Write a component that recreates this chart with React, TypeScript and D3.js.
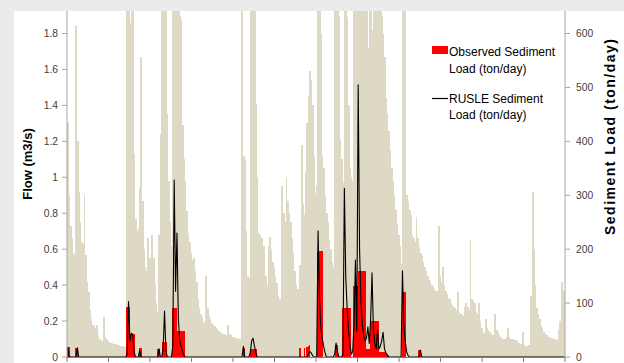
import React from "react";
import * as d3 from "d3";

// daily flow (m3/s), one row per 30-day block
const flow = [
  1.30, 0.90, 0.73, 0.66, 0.58, 0.57, 1.84, 1.20, 0.92, 0.75, 0.64, 0.63, 0.90, 0.57, 0.42, 0.36, 0.26, 0.21, 0.18, 0.17, 0.16, 0.18, 0.12, 0.10, 0.095, 0.09, 0.22, 0.11, 0.10, 0.09,
  0.085, 0.08, 0.08, 0.075, 0.07, 0.07, 0.065, 0.065, 0.06, 0.06, 0.06, 0.055, 0.055, 2.4, 2.6, 1.86, 2.2, 2.4, 1.13, 0.77, 0.70, 0.72, 0.94, 1.67, 0.87, 0.60, 0.50, 0.48, 0.66, 0.55,
  0.52, 0.68, 0.55, 0.40, 0.30, 0.25, 0.68, 1.24, 2.3, 2.5, 2.2, 2.0, 1.35, 0.98, 0.75, 0.62, 2.4, 2.6, 2.5, 2.3, 2.1, 1.90, 1.88, 1.29, 1.10, 0.98, 0.81, 0.69, 0.64, 0.58,
  0.54, 0.55, 0.48, 0.42, 0.32, 0.27, 0.24, 0.22, 0.20, 0.19, 0.45, 0.27, 0.23, 0.21, 0.19, 0.18, 0.17, 0.16, 0.155, 0.145, 0.14, 0.135, 0.13, 0.13, 0.12, 0.12, 0.18, 0.13, 0.12, 0.11,
  0.11, 0.105, 0.105, 0.10, 0.10, 0.10, 2.4, 1.12, 1.10, 0.70, 0.45, 0.44, 2.2, 2.6, 2.4, 2.0, 1.41, 1.00, 0.69, 0.68, 0.66, 0.62, 0.62, 0.45, 0.40, 0.62, 0.67, 0.60, 0.53, 0.50,
  0.45, 0.41, 0.34, 0.32, 0.31, 0.95, 0.80, 0.75, 1.00, 0.87, 0.80, 0.75, 0.66, 0.58, 0.48, 0.40, 0.38, 0.37, 0.51, 1.18, 0.85, 0.79, 1.03, 1.30, 1.45, 1.59, 1.54, 1.40, 1.12, 0.91,
  0.95, 2.4, 2.2, 1.80, 1.12, 1.05, 0.90, 0.80, 0.75, 0.65, 0.60, 0.53, 0.50, 2.2, 2.5, 2.1, 1.90, 1.21, 1.10, 0.97, 2.3, 2.0, 1.89, 1.40, 1.05, 1.00, 0.98, 2.2, 2.6, 2.4,
  2.5, 2.4, 2.6, 2.3, 2.5, 2.2, 2.0, 1.72, 2.3, 2.1, 1.82, 2.2, 2.5, 2.6, 2.4, 2.2, 2.0, 1.90, 1.80, 1.67, 1.44, 1.35, 1.26, 1.15, 1.05, 0.98, 0.90, 0.82, 0.74, 0.68,
  0.62, 0.52, 2.3, 2.4, 2.1, 0.90, 0.87, 0.82, 0.79, 0.68, 0.66, 0.64, 0.78, 0.66, 0.61, 0.58, 0.56, 0.53, 0.50, 0.48, 0.45, 0.43, 0.42, 0.40, 0.39, 0.38, 0.37, 0.37, 0.73, 0.45,
  0.42, 0.50, 0.40, 0.37, 0.35, 0.33, 0.32, 0.30, 0.29, 0.28, 0.27, 0.26, 0.36, 0.25, 0.24, 0.24, 0.23, 0.28, 0.30, 0.28, 0.26, 0.65, 0.32, 0.31, 0.30, 0.25, 0.24, 0.30, 0.20, 0.16,
  0.14, 0.13, 0.21, 0.16, 0.15, 0.14, 0.13, 0.12, 0.12, 0.24, 0.15, 0.14, 0.12, 0.11, 0.10, 0.10, 0.10, 0.11, 0.16, 0.11, 0.10, 0.10, 0.10, 0.095, 0.095, 0.09, 0.08, 0.075, 0.075, 0.14,
  0.065, 0.06, 0.06, 0.065, 0.065, 0.34, 0.92, 0.60, 0.40, 0.27, 0.24, 0.21, 0.17, 0.16, 0.14, 0.13, 0.12, 0.11, 0.11, 0.105, 0.105, 0.10, 0.10, 0.10, 0.095, 0.15, 0.20, 0.42, 0.37, 0.37,
];

// [day, ton/day] - days not listed are 0
const observed = [
  [0, 18], [1, 18], [6, 17], [7, 17], [43, 93], [44, 93], [45, 42], [46, 42], [47, 42], [48, 42],
  [52, 16], [53, 16], [65, 15], [66, 15], [69, 27], [70, 27], [71, 27], [76, 91], [77, 91], [78, 91],
  [79, 48], [80, 48], [81, 48], [82, 48], [83, 48], [84, 48], [127, 17], [128, 17],
  [132, 14], [133, 14], [134, 14], [135, 14], [136, 14], [168, 16], [171, 16], [173, 18], [174, 20], [175, 22],
  [181, 197], [182, 197], [183, 197], [184, 197], [194, 23], [195, 23],
  [199, 91], [200, 91], [201, 91], [202, 91], [203, 91], [204, 91], [207, 131], [208, 131], [209, 131],
  [210, 160], [211, 160], [212, 160], [213, 160], [214, 160], [215, 160], [216, 15], [217, 15], [218, 15],
  [219, 67], [220, 67], [221, 67], [222, 67], [223, 67], [224, 67], [225, 10], [226, 10], [227, 10], [228, 10], [229, 10],
  [230, 8], [231, 4], [232, 4], [242, 121], [243, 121], [244, 121], [254, 13], [255, 13],
];

const rusle = [
  [0, 18], [1, 2], [7, 17], [43, 5], [44, 103], [45, 30], [46, 44], [47, 42], [48, 10], [52, 12], [66, 15],
  [69, 15], [70, 85], [71, 12], [76, 20], [77, 328], [78, 122], [79, 230], [80, 70], [81, 30], [82, 20], [83, 10], [84, 3],
  [127, 20], [132, 8], [133, 30], [134, 35], [135, 20], [136, 8], [174, 5], [175, 10], [176, 8], [177, 3],
  [181, 234], [182, 110], [183, 55], [184, 35], [185, 20], [186, 8], [193, 5], [194, 26], [195, 10],
  [199, 5], [200, 313], [201, 150], [202, 90], [203, 50], [204, 25], [205, 5], [206, 10], [207, 60], [208, 180], [209, 48],
  [210, 505], [211, 200], [212, 100], [213, 60], [214, 40], [215, 30], [216, 35], [217, 56], [218, 25], [219, 70],
  [220, 156], [221, 50], [222, 25], [223, 15], [224, 50], [225, 15], [226, 20], [227, 30], [228, 46], [229, 15], [230, 8], [231, 4],
  [242, 160], [243, 60], [244, 30], [245, 10], [246, 3], [255, 13],
];

const flowTicks = [0, 0.2, 0.4, 0.6, 0.8, 1, 1.2, 1.4, 1.6, 1.8];
const sedTicks = [0, 100, 200, 300, 400, 500, 600];
const monthTicks = [0, 30, 60, 90, 120, 150, 180, 210, 240, 270, 300, 330, 360];

export default function App() {
  const left = 67, right = 565, top = 11, bottom = 357;
  const days = d3.range(flow.length);
  const obs = days.map(() => 0);
  observed.forEach(([d, v]) => (obs[d] = v));
  const rus = days.map(() => 0);
  rusle.forEach(([d, v]) => (rus[d] = v));

  const x = d3.scaleBand<number>().domain(days).range([left, right]).padding(0);
  const xt = d3.scaleLinear().domain([0, flow.length]).range([left, right]);
  const yFlow = d3.scaleLinear().domain([0, 1.8]).range([bottom, 33.5]);
  const ySed = d3.scaleLinear().domain([0, 600]).range([bottom, 33.5]);
  const bw = x.bandwidth();

  const rusleLine = d3
    .line<number>()
    .x((v, i) => (x(i) as number) + bw / 2)
    .y((v) => ySed(v));

  const font = "'Liberation Sans', Arial, sans-serif";

  return (
    <div style={{ position: "absolute", left: 0, top: 0 }}>
      <svg width={624} height={363} style={{ display: "block" }} fontFamily={font}>
        <defs>
          <clipPath id="plot">
            <rect x={left} y={top} width={right - left} height={bottom - top + 1} />
          </clipPath>
        </defs>
        <rect x={0} y={0} width={624} height={363} fill="#ebebeb" />
        <rect x={14} y={11} width={610} height={352} fill="#ffffff" />

        <g clipPath="url(#plot)">
          {/* crisp, slightly overlapping bars so no seams show between days */}
          <g shapeRendering="crispEdges">
            {days.map((i) => (
              <rect
                key={"f" + i}
                x={x(i)}
                y={yFlow(flow[i])}
                width={bw + 0.5}
                height={bottom - yFlow(flow[i])}
                fill="#ddd9c4"
              />
            ))}
            {days
              .filter((i) => obs[i] > 0)
              .map((i) => (
                <rect
                  key={"o" + i}
                  x={x(i)}
                  y={ySed(obs[i])}
                  width={obs[i + 1] > 0 ? bw + 0.5 : bw}
                  height={bottom - ySed(obs[i])}
                  fill="#ff0000"
                />
              ))}
          </g>
          <path d={rusleLine(rus) || ""} fill="none" stroke="#000" strokeWidth={1.1} strokeLinejoin="round" />
        </g>

        {/* left axis */}
        <line x1={left} x2={left} y1={top} y2={bottom} stroke="#a6a6a6" />
        {flowTicks.map((t) => (
          <g key={"lt" + t}>
            <line x1={left - 5} x2={left} y1={yFlow(t)} y2={yFlow(t)} stroke="#a6a6a6" />
            <text x={58} y={yFlow(t)} dy="0.35em" textAnchor="end" fontSize={10.3} fill="#404040">
              {t}
            </text>
          </g>
        ))}

        {/* right axis */}
        <line x1={right} x2={right} y1={top} y2={bottom} stroke="#a6a6a6" />
        {sedTicks.map((t) => (
          <g key={"rt" + t}>
            <line x1={right} x2={right + 5} y1={ySed(t)} y2={ySed(t)} stroke="#a6a6a6" />
            <text x={576} y={ySed(t)} dy="0.35em" textAnchor="start" fontSize={10.3} fill="#404040">
              {t}
            </text>
          </g>
        ))}

        {/* bottom axis */}
        <line x1={left} x2={right} y1={bottom + 0.5} y2={bottom + 0.5} stroke="#7f7f7f" />
        {monthTicks.map((t) => (
          <line key={"bt" + t} x1={xt(t)} x2={xt(t)} y1={bottom} y2={bottom + 5} stroke="#7f7f7f" />
        ))}

        {/* axis titles */}
        <text
          transform={`translate(31.5,164) rotate(-90)`}
          textAnchor="middle"
          fontSize={13}
          fontWeight="bold"
          fill="#000"
        >
          Flow (m3/s)
        </text>
        <text
          transform={`translate(615,137) rotate(-90)`}
          textAnchor="middle"
          fontSize={14}
          fontWeight="bold"
          fill="#000"
          textLength={196}
          lengthAdjust="spacing"
        >
          Sediment Load (ton/day)
        </text>

        {/* legend */}
        <g fontSize={12} fill="#000">
          <rect x={432} y={46} width={16} height={8} fill="#ff0000" />
          <text x={449} y={56}>Observed Sediment</text>
          <text x={449} y={72.5}>Load (ton/day)</text>
          <line x1={432} x2={448} y1={98.5} y2={98.5} stroke="#000" strokeWidth={1.2} />
          <text x={449} y={102.5}>RUSLE Sediment</text>
          <text x={449} y={119}>Load (ton/day)</text>
        </g>
      </svg>
    </div>
  );
}
